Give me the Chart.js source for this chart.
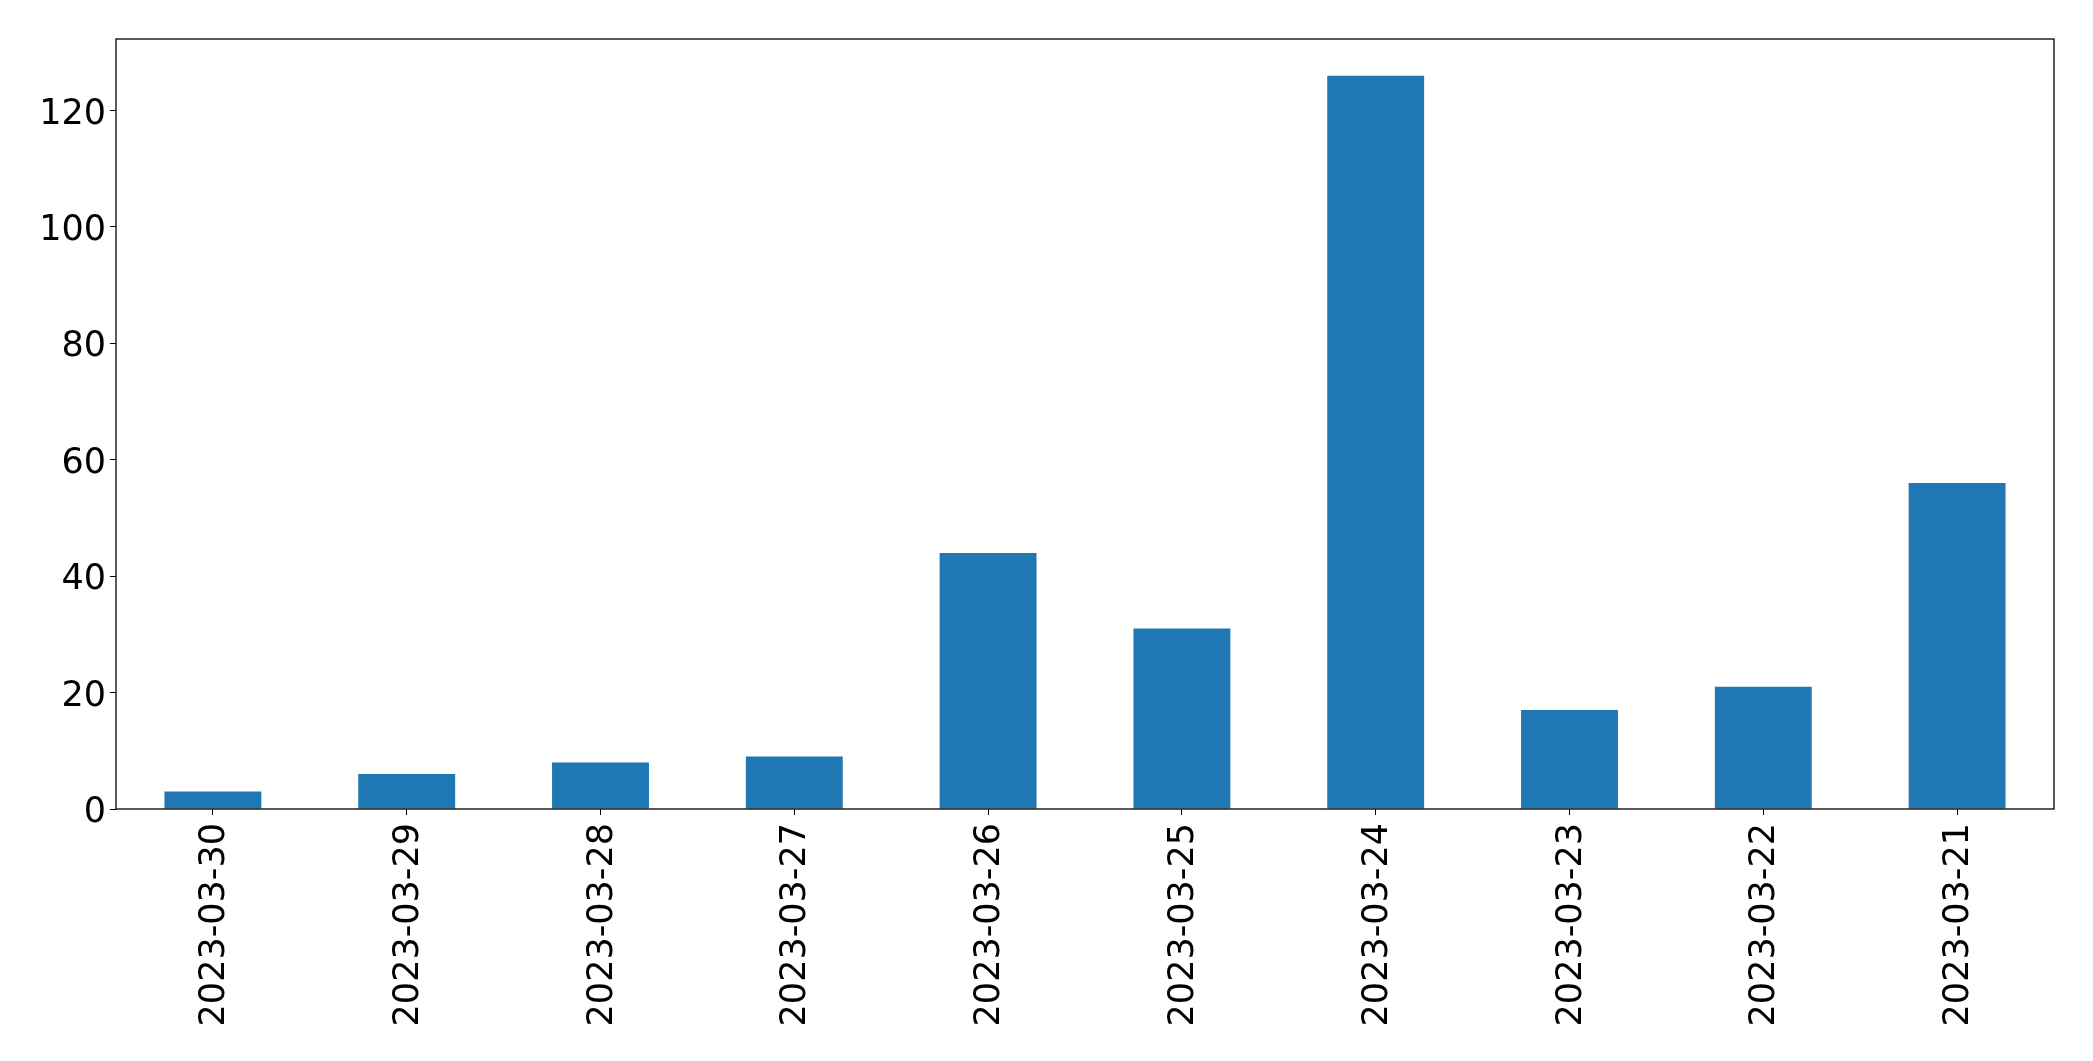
<!DOCTYPE html>
<html>
<head>
<meta charset="utf-8">
<script src="https://cdn.jsdelivr.net/npm/chart.js@4.4.0/dist/chart.umd.min.js"></script>
<style>
  html, body { margin: 0; padding: 0; background: #fff; }
  #wrap { width: 2093px; height: 1061px; }
</style>
</head>
<body>
<div id="wrap"><canvas id="chart" width="2093" height="1061"></canvas></div>
<script>
// daily counts, newest first (as in the source plot)
const dates = ['2023-03-30', '2023-03-29', '2023-03-28', '2023-03-27', '2023-03-26',
               '2023-03-25', '2023-03-24', '2023-03-23', '2023-03-22', '2023-03-21'];
const counts = [3, 6, 8, 9, 44, 31, 126, 17, 21, 56];
const yTicks = [0, 20, 40, 60, 80, 100, 120];

const FONT = { family: 'DejaVu Sans', size: 35 };

// box around the plot area, like a matplotlib axes frame
const frame = {
  id: 'frame',
  afterDraw(chart) {
    const { ctx, chartArea: a } = chart;
    ctx.save();
    ctx.strokeStyle = '#000';
    ctx.lineWidth = 1.3;
    ctx.strokeRect(a.left, a.top, a.right - a.left, a.bottom - a.top);
    ctx.restore();
  }
};

new Chart(document.getElementById('chart'), {
  type: 'bar',
  data: {
    labels: dates,
    datasets: [{
      data: counts,
      backgroundColor: '#1f77b4',
      categoryPercentage: 1,
      barPercentage: 0.5
    }]
  },
  options: {
    responsive: false,
    animation: false,
    layout: { padding: { top: 39, right: 39, left: 0, bottom: 0 } },
    plugins: { legend: { display: false }, tooltip: { enabled: false } },
    scales: {
      x: {
        grid: { display: true, offset: false, drawOnChartArea: false, tickLength: 6, tickColor: '#000' },
        border: { display: false },
        ticks: { color: '#000', font: FONT, maxRotation: 90, minRotation: 90, padding: 8, labelOffset: 2 },
        afterFit(s) { s.height = 252; }
      },
      y: {
        min: 0,
        max: 132.3,
        grid: { display: true, drawOnChartArea: false, tickLength: 6, tickColor: '#000' },
        border: { display: false },
        ticks: { color: '#000', font: FONT, padding: 4, labelOffset: 4 },
        afterBuildTicks(s) { s.ticks = yTicks.map(v => ({ value: v })); },
        afterFit(s) { s.width = 116; }
      }
    }
  },
  plugins: [frame]
});
</script>
</body>
</html>
